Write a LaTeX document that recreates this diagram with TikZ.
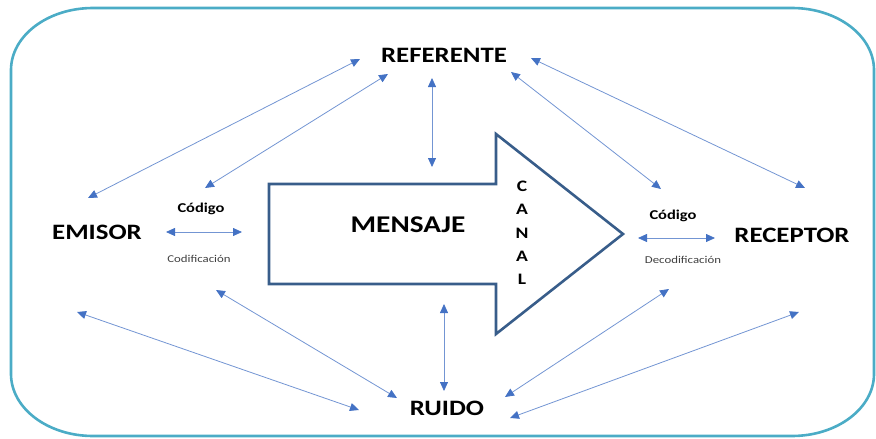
\documentclass[tikz,border=0pt]{standalone}
\usepackage{fontspec}
\setmainfont[FakeStretch=1.22]{Carlito}
\usetikzlibrary{arrows.meta}
\definecolor{marco}{RGB}{75,172,198}
\definecolor{flecha}{RGB}{68,114,196}
\definecolor{canal}{RGB}{56,93,138}
\definecolor{gris}{RGB}{64,64,64}

\begin{document}
\begin{tikzpicture}[x=1pt,y=-1pt,
  flec/.style={draw=flecha!75,line width=0.8pt,{Triangle[length=9pt,width=8pt,color=flecha]}-{Triangle[length=9pt,width=8pt,color=flecha]}},
  tit/.style={font=\fontsize{22}{24}\selectfont\bfseries,inner sep=0pt,anchor=base},
  cod/.style={font=\fontsize{13.5}{15}\selectfont\bfseries,inner sep=0pt,anchor=base},
  proc/.style={font=\fontsize{10.5}{12}\selectfont,text=gris,inner sep=0pt,anchor=base}
]
\useasboundingbox (0,0) rectangle (876,439);
% marco
\draw[marco,line width=2.6pt] (93,8) -- (792,8)
  arc[start angle=-90,end angle=0,x radius=82,y radius=62] -- (874,374)
  arc[start angle=0,end angle=90,x radius=82,y radius=62] -- (93,436)
  arc[start angle=90,end angle=180,x radius=82,y radius=62] -- (11,70)
  arc[start angle=180,end angle=270,x radius=82,y radius=62] -- cycle;
% flecha del mensaje
\draw[canal,line width=2.6pt,line join=miter] (269,184) -- (496,184) -- (496,134)
  -- (623,234) -- (496,334) -- (496,284) -- (269,284) -- cycle;

\node[tit] (ref) at (444,62) {REFERENTE};
\node[tit] (emi) at (97,239) {EMISOR};
\node[tit] (rec) at (792,242) {RECEPTOR};
\node[tit] (rui) at (447,415) {RUIDO};
\node[tit,font=\fontsize{24}{26}\selectfont\bfseries] (men) at (408,232) {MENSAJE};
\foreach \n/\y/\c in {c1/191/C, c2/214/A, c3/238/N, c4/261/A, c5/284/L}
  {\node[tit,font=\fontsize{16}{18}\selectfont\bfseries] (\n) at (522,\y) {\c};}
\node[cod] (codE) at (201,212) {Código};
\node[proc] (codif) at (199,262) {Codificación};
\node[cod] (codR) at (673,219) {Código};
\node[proc] (decod) at (683,263) {Decodificación};

\foreach \n/\x/\y in {
rA/360/59, eA/88/198,
rB/388/74, eB/205/188,
rC/432/78, mA/432/167,
rD/511/72, cB/661/189,
rE/531/58, cA/805/188,
uA/359/410, eC/77/312,
uB/397/398, eD/216/290,
uC/444/391, mB/444/304,
uD/505/397, cC/669/289,
uE/510/418, cD/799/312,
kA/166/232, kB/242/232,
kC/638/238, kD/715/238
}
{
  \coordinate (\n) at (\x,\y);
}
\foreach \p/\q in {rA/eA, rB/eB, rC/mA, rD/cB, rE/cA,
  uA/eC, uB/eD, uC/mB, uD/cC, uE/cD, kA/kB, kC/kD}
{
  \draw[flec] (\p) -- (\q);
}
\end{tikzpicture}
\end{document}
